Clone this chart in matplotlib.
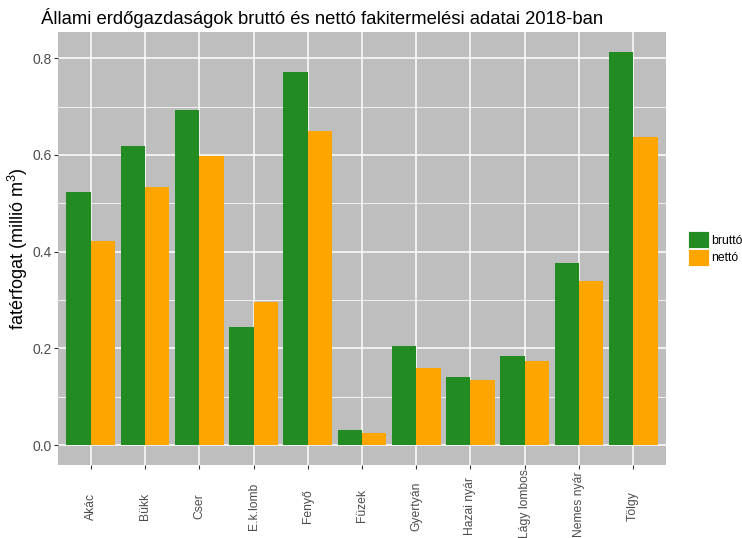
import matplotlib
matplotlib.use("Agg")
import matplotlib.pyplot as plt
from matplotlib.patches import Patch
from matplotlib.transforms import blended_transform_factory
import numpy as np

plt.rcParams['font.family'] = ['Liberation Sans', 'DejaVu Sans']
plt.rcParams['mathtext.fontset'] = 'custom'
plt.rcParams['mathtext.rm'] = 'Liberation Sans'
plt.rcParams['mathtext.it'] = 'Liberation Sans'

categories = ["Akác", "Bükk", "Cser", "E.k.lomb", "Fenyő", "Füzek", "Gyertyán",
              "Hazai nyár", "Lágy lombos", "Nemes nyár", "Tölgy"]
brutto = [0.524, 0.619, 0.693, 0.245, 0.772, 0.031, 0.205, 0.141, 0.185, 0.377, 0.813]
netto = [0.422, 0.534, 0.598, 0.296, 0.650, 0.025, 0.160, 0.135, 0.174, 0.340, 0.637]
series_names = ["bruttó", "nettó"]
colors = ["#228B22", "#FFA500"]
title = "Állami erdőgazdaságok bruttó és nettó fakitermelési adatai 2018-ban"
ylabel = "fatérfogat (millió m$^{3}$)"
yticks = [0.0, 0.2, 0.4, 0.6, 0.8]

W, H = 742, 538
fig = plt.figure(figsize=(W / 100, H / 100), dpi=100)
left, right, top, bottom = 58.3, 665.7, 32.3, 464.7
ax = fig.add_axes([left / W, 1 - bottom / H, (right - left) / W, (bottom - top) / H])
ax.set_facecolor("#BEBEBE")

x = np.arange(1, len(categories) + 1)
bw = 0.45
ax.bar(x - bw / 2, brutto, width=bw, color=colors[0], label=series_names[0], zorder=3)
ax.bar(x + bw / 2, netto, width=bw, color=colors[1], label=series_names[1], zorder=3)

ymax = max(max(brutto), max(netto))
ax.set_ylim(-0.05 * ymax, ymax * 1.05)
ax.set_xlim(0.4, len(categories) + 0.6)

ax.set_yticks(yticks)
ax.set_yticklabels([f"{v:.1f}" for v in yticks])
ax.set_yticks([0.1, 0.3, 0.5, 0.7], minor=True)
ax.set_xticks(x)
ax.set_xticklabels([])

ax.grid(True, which='major', axis='both', color='white', linewidth=1.1, zorder=1)
ax.grid(True, which='minor', axis='y', color='white', linewidth=0.55, zorder=1)
for s in ax.spines.values():
    s.set_visible(False)

ax.tick_params(axis='both', which='major', length=2.7, width=0.8, color='#333333',
               labelcolor='#4D4D4D', labelsize=10)
ax.tick_params(axis='y', pad=2)
ax.tick_params(which='minor', length=0)

# x category labels: rotated, centred like the reference, kept inside the figure
trans = blended_transform_factory(ax.transData, fig.transFigure)
fig.canvas.draw()
renderer = fig.canvas.get_renderer()
center_px = 506.0
top_limit = 469.0
bottom_limit = H - 1.0
for xi, lab in zip(x, categories):
    t = ax.text(xi, 1 - center_px / H, lab, transform=trans, rotation=90,
                ha='center', va='center', fontsize=8.7, color='#4D4D4D', clip_on=False)
    hgt = t.get_window_extent(renderer).height
    c = min(center_px, bottom_limit - hgt / 2)
    c = max(c, top_limit + hgt / 2)
    t.set_y(1 - c / H)

ax.set_ylabel(ylabel, fontsize=13, color='black', labelpad=1.5)
fig.text(41 / W, 1 - 17.5 / H, title, fontsize=13.3, color='black', va='center', ha='left')

handles = [Patch(facecolor=colors[0], edgecolor='white', linewidth=0.6),
           Patch(facecolor=colors[1], edgecolor='white', linewidth=0.6)]
fig.legend(handles, series_names, loc='center left', bbox_to_anchor=(688 / W, 1 - 248.5 / H),
           frameon=False, fontsize=8.8, handlelength=1.72, handleheight=1.72,
           labelspacing=0.08, handletextpad=0.15, borderpad=0, borderaxespad=0)

fig.savefig("out.png", dpi=100)
